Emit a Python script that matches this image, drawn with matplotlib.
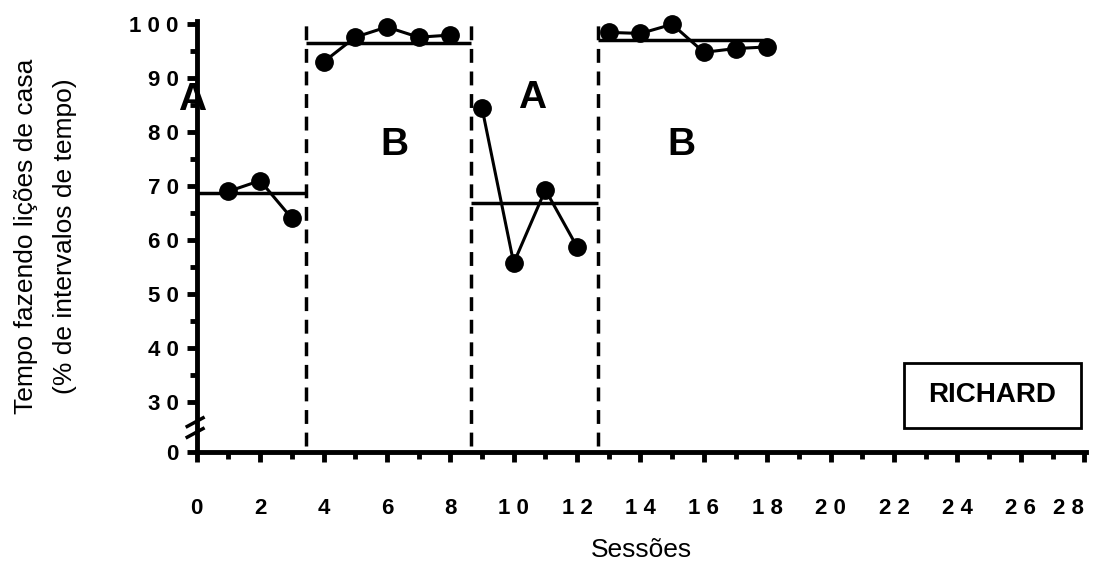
import matplotlib.pyplot as plt
from matplotlib.patches import Rectangle

plt.rcParams['font.family'] = 'Liberation Sans'

# --- Data ---
sessions_a1 = [1, 2, 3]
values_a1 = [69, 71, 64]
sessions_b1 = [4, 5, 6, 7, 8]
values_b1 = [93, 97.6, 99.5, 97.6, 98]
sessions_a2 = [9, 10, 11, 12]
values_a2 = [84.5, 55.7, 69.3, 58.7]
sessions_b2 = [13, 14, 15, 16, 17, 18]
values_b2 = [98.5, 98.3, 100, 94.8, 95.5, 95.8]

# phase means and their spans (start, end)
phase_means = [68.7, 96.5, 66.8, 97.0]
phase_spans = [(0, 3.45), (3.45, 8.65), (8.65, 12.65), (12.65, 18)]
phase_changes = [3.45, 8.65, 12.65]
phase_labels = ['A', 'B', 'A', 'B']
label_pos = [(-0.15, 86), (6.25, 77.6), (10.57, 86.3), (15.3, 77.6)]

y_zero = 20.7  # where the broken axis shows "0"
ytick_vals = [y_zero, 30, 40, 50, 60, 70, 80, 90, 100]
ytick_labels = ['0', '3 0', '4 0', '5 0', '6 0', '7 0', '8 0', '9 0', '1 0 0']
xtick_vals = list(range(0, 29, 2))
xtick_labels = [' '.join(str(v)) for v in xtick_vals]

fig = plt.figure(figsize=(10.99, 5.69), dpi=100)
ax = fig.add_axes([0.179, 0.206, 0.809, 0.757])

# dashed phase-change lines
for xc in phase_changes:
    ax.vlines(xc, y_zero + 1, 100.5, colors='black', linestyles=(0, (4, 2.5)), lw=2.5)

# phase mean lines
for m, (s, e) in zip(phase_means, phase_spans):
    ax.plot([s, e], [m, m], color='black', lw=2.5, solid_capstyle='butt')

# data series, one per phase
for xs, ys in [(sessions_a1, values_a1), (sessions_b1, values_b1),
               (sessions_a2, values_a2), (sessions_b2, values_b2)]:
    ax.plot(xs, ys, color='black', lw=2.2, marker='o', markersize=12.5, clip_on=False)

for lab, (lx, ly) in zip(phase_labels, label_pos):
    ax.text(lx, ly, lab, fontsize=28, fontweight='bold', ha='center', va='center')

# RICHARD box
ax.add_patch(Rectangle((22.3, 25.2), 5.6, 12.0, fill=False, lw=2, ec='black'))
ax.text(25.1, 31.2, 'RICHARD', fontsize=20, fontweight='bold', ha='center', va='center')

ax.set_xlim(0, 28.05)
ax.set_ylim(y_zero, 100.6)

for side in ['top', 'right']:
    ax.spines[side].set_visible(False)
for side in ['left', 'bottom']:
    ax.spines[side].set_linewidth(3.5)

ax.set_xticks(xtick_vals)
ax.set_xticklabels(xtick_labels, fontsize=16, fontweight='bold')
ax.set_xticks(range(1, 28, 2), minor=True)
ax.set_yticks(ytick_vals)
ax.set_yticklabels(ytick_labels, fontsize=16, fontweight='bold')
ax.set_yticks(range(35, 100, 10), minor=True)
ax.tick_params(axis='both', which='major', length=7, width=3.5, pad=6)
ax.tick_params(axis='x', which='major', pad=26)
ax.tick_params(axis='both', which='minor', length=5, width=3.5)
# last label sits at the right edge; pull it slightly inside
ax.get_xticklabels()[-1].set_horizontalalignment('right')
ax.get_xticklabels()[-1].set_x(28.35)

# axis break marks
for yb in [24.2, 26.2]:
    ax.plot([-0.3, 0.2], [yb - 0.8, yb + 0.8], color='black', lw=2.5, clip_on=False)

ax.set_xlabel('Sessões', fontsize=19, labelpad=14)
ax.set_ylabel('Tempo fazendo lições de casa\n(% de intervalos de tempo)',
              fontsize=19, linespacing=1.75, labelpad=38)

fig.savefig('out.png', dpi=100)
